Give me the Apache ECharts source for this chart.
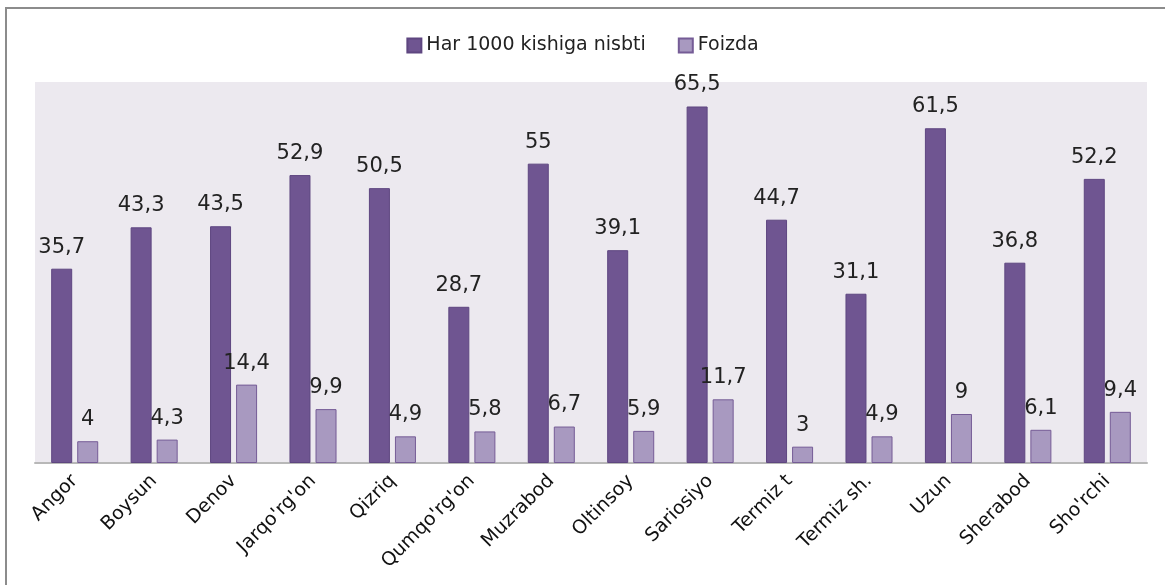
<!DOCTYPE html>
<html>
<head>
<meta charset="utf-8">
<script src="https://cdn.jsdelivr.net/npm/echarts@6/dist/echarts.min.js"></script>
<style>
  html, body { margin: 0; padding: 0; background: #fff; }
  #frame {
    position: absolute; left: 5px; top: 7px; width: 1200px; height: 620px;
    border-left: 2px solid #8c8c8c; border-top: 2px solid #8c8c8c;
  }
  #main { position: absolute; left: 0; top: 0; width: 1165px; height: 585px; }
</style>
</head>
<body>
<div id="frame"></div>
<div id="main"></div>
<script>
// hududlar
var districts = ['Angor', 'Boysun', 'Denov', "Jarqo'rg'on", 'Qizriq', "Qumqo'rg'on", 'Muzrabod',
  'Oltinsoy', 'Sariosiyo', 'Termiz t', 'Termiz sh.', 'Uzun', 'Sherabod', "Sho'rchi"];
var per1000 = [35.7, 43.3, 43.5, 52.9, 50.5, 28.7, 55, 39.1, 65.5, 44.7, 31.1, 61.5, 36.8, 52.2];
var percent = [4, 4.3, 14.4, 9.9, 4.9, 5.8, 6.7, 5.9, 11.7, 3, 4.9, 9, 6.1, 9.4];
var seriesNames = ['Har 1000 kishiga nisbti', 'Foizda'];

var font = 'DejaVu Sans';

function commaLabel(p) {
  return String(p.value).replace('.', ',');
}

var chart = echarts.init(document.getElementById('main'));
chart.setOption({
  animation: false,
  textStyle: { fontFamily: font },
  legend: {
    top: 31,
    left: 'center',
    itemWidth: 14,
    itemHeight: 14,
    itemGap: 32,
    icon: 'rect',
    textStyle: { fontSize: 19, color: '#222', fontFamily: font },
    data: seriesNames
  },
  grid: { left: 35, right: 18, top: 82, bottom: 122, backgroundColor: '#ece9ef', show: true, borderWidth: 0 },
  xAxis: {
    type: 'category',
    data: districts,
    axisLine: { lineStyle: { color: '#b8b8b8', width: 2 } },
    axisTick: { show: false },
    axisLabel: { rotate: 45, fontSize: 19, color: '#111', margin: 15, interval: 0, fontFamily: font }
  },
  yAxis: {
    type: 'value',
    min: 0, max: 70,
    show: false
  },
  series: [
    {
      name: seriesNames[0], type: 'bar', data: per1000,
      barWidth: 21, barGap: '24%',
      itemStyle: { color: '#6f5591', borderColor: '#5e4680', borderWidth: 1 },
      label: { show: true, position: 'top', distance: 11, fontSize: 21, color: '#222', formatter: commaLabel, fontFamily: font }
    },
    {
      name: seriesNames[1], type: 'bar', data: percent,
      barWidth: 21,
      itemStyle: { color: '#a899c0', borderColor: '#755c96', borderWidth: 1 },
      label: { show: true, position: 'top', distance: 11, fontSize: 21, color: '#222', formatter: commaLabel, fontFamily: font }
    }
  ]
});
</script>
</body>
</html>
